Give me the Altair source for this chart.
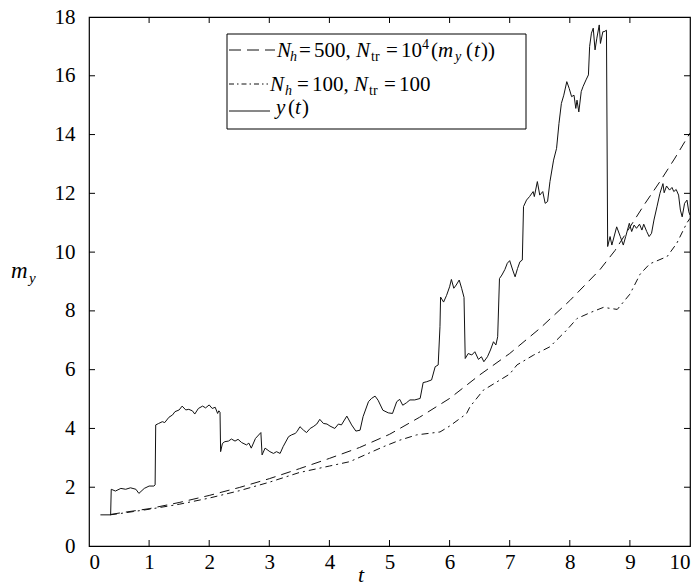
import altair as alt
import pandas as pd

# ---- data ----
yt_t = [0.19,0.36,0.37,0.44,0.53,0.61,0.69,0.78,0.83,0.92,1.0,1.08,1.10,1.11,1.16,1.22,1.26,1.33,1.39,1.43,1.5,1.55,1.61,1.66,1.72,1.76,1.82,1.89,1.94,2.0,2.05,2.1,2.14,2.16,2.18,2.19,2.22,2.26,2.32,2.37,2.43,2.48,2.54,2.62,2.66,2.7,2.77,2.86,2.88,2.93,3.01,3.07,3.12,3.18,3.23,3.32,3.37,3.43,3.46,3.51,3.57,3.62,3.68,3.73,3.79,3.84,3.9,3.96,4.01,4.09,4.15,4.2,4.29,4.37,4.44,4.51,4.56,4.65,4.7,4.76,4.81,4.89,4.98,5.05,5.12,5.17,5.22,5.28,5.34,5.42,5.51,5.56,5.62,5.7,5.76,5.81,5.84,5.85,5.9,5.95,6.0,6.03,6.07,6.11,6.16,6.2,6.24,6.26,6.31,6.37,6.42,6.48,6.53,6.57,6.63,6.68,6.73,6.77,6.8,6.83,6.87,6.92,6.96,7.0,7.05,7.09,7.13,7.17,7.21,7.23,7.28,7.33,7.39,7.41,7.46,7.5,7.55,7.59,7.63,7.67,7.73,7.78,7.82,7.86,7.9,7.95,7.99,8.03,8.07,8.1,8.12,8.15,8.19,8.22,8.27,8.31,8.33,8.36,8.39,8.42,8.45,8.49,8.51,8.55,8.57,8.61,8.63,8.67,8.7,8.78,8.84,8.89,8.93,8.99,9.03,9.07,9.11,9.16,9.2,9.23,9.28,9.32,9.36,9.4,9.45,9.5,9.55,9.57,9.61,9.66,9.7,9.73,9.77,9.81,9.84,9.87,9.91,9.95,9.98,10.0]
yt_y = [1.06,1.06,1.93,1.87,1.96,1.93,1.98,1.93,1.79,1.96,2.04,2.04,2.08,4.12,4.17,4.23,4.2,4.38,4.46,4.57,4.63,4.76,4.63,4.65,4.6,4.49,4.68,4.76,4.7,4.8,4.68,4.72,4.51,4.6,4.55,3.21,3.49,3.55,3.57,3.64,3.57,3.63,3.52,3.44,3.5,3.33,3.66,3.86,3.1,3.33,3.21,3.15,3.21,3.15,3.38,3.72,3.78,3.83,3.89,4.06,3.94,3.86,4.0,4.06,4.15,4.31,4.17,4.15,4.08,4.0,4.15,4.12,4.42,4.12,3.91,3.94,4.4,4.91,5.02,5.1,4.96,4.62,4.53,4.51,4.91,4.99,4.79,4.87,4.97,4.97,5.02,5.56,5.59,5.65,6.1,6.16,7.46,8.47,8.3,8.53,8.82,9.07,8.77,8.88,9.05,8.77,8.46,6.38,6.55,6.5,6.61,6.35,6.44,6.27,6.44,6.67,6.95,6.84,7.12,9.1,9.22,9.41,9.62,9.71,9.39,9.16,9.44,9.67,9.73,11.55,11.77,11.89,12.06,11.89,12.4,11.94,12.06,11.66,11.72,12.4,13.13,13.53,14.38,15.06,15.34,15.8,15.57,15.29,15.34,14.89,15.17,14.77,15.46,15.63,15.86,16.03,17.0,17.45,17.62,16.88,17.28,17.73,17.1,17.5,17.5,17.55,10.19,10.53,10.24,10.86,10.53,10.24,10.53,10.98,10.7,10.92,10.81,10.95,10.75,10.95,10.7,10.53,10.64,11.09,11.54,12.0,12.33,12.02,12.25,12.11,12.2,12.06,12.13,11.94,11.43,11.2,11.66,11.77,11.37,11.26]

n500_t = [0.35,0.5,1.0,1.5,2.0,2.5,3.0,3.5,4.0,4.5,5.0,5.5,6.0,6.5,7.0,7.5,8.0,8.5,8.75,9.0,9.25,9.5,9.75,10.0]
n500_y = [1.07,1.12,1.27,1.48,1.72,1.99,2.29,2.63,2.98,3.35,3.8,4.38,5.02,5.82,6.55,7.4,8.35,9.4,10.05,10.85,11.65,12.4,13.2,14.05]

n100_t = [0.35,0.5,1.0,1.5,2.0,2.5,3.0,3.5,4.0,4.34,4.9,5.17,5.45,5.84,6.0,6.28,6.34,6.56,7.0,7.12,7.4,7.67,7.95,8.12,8.35,8.56,8.79,9.0,9.17,9.33,9.62,9.78,9.95,10.0]
n100_y = [1.06,1.1,1.25,1.42,1.63,1.88,2.17,2.5,2.72,2.87,3.38,3.6,3.78,3.88,4.08,4.5,4.74,5.3,5.85,6.16,6.5,6.78,7.35,7.74,7.95,8.12,8.05,8.57,9.25,9.6,9.85,10.3,11.0,11.15]

x_ticks = [1, 2, 3, 4, 5, 6, 7, 8, 9]
y_ticks = [2, 4, 6, 8, 10, 12, 14, 16]

W, H = 601, 529
FONT = "Liberation Serif"
INK = "#111111"

xs = alt.Scale(domain=[0, 10], nice=False, zero=False)
ys = alt.Scale(domain=[0, 18], nice=False, zero=False)

xaxis = alt.Axis(values=list(range(0, 11)), format="d", title=None, ticks=False, domain=False,
                 grid=False, labelPadding=5, labelFontSize=21, labelFont=FONT, labelColor="black")
yaxis = alt.Axis(values=list(range(0, 19, 2)), format="d", title=None, ticks=False, domain=False,
                 grid=False, labelPadding=14, labelFontSize=21, labelFont=FONT, labelColor="black")

df_y = pd.DataFrame({"t": yt_t, "v": yt_y})
df_a = pd.DataFrame({"t": n500_t, "v": n500_y})
df_b = pd.DataFrame({"t": n100_t, "v": n100_y})

line_y = alt.Chart(df_y).mark_line(color=INK, strokeWidth=1).encode(
    x=alt.X("t:Q", scale=xs, axis=xaxis), y=alt.Y("v:Q", scale=ys, axis=yaxis))
line_a = alt.Chart(df_a).mark_line(color=INK, strokeWidth=1, strokeDash=[10, 6]).encode(
    x=alt.X("t:Q", scale=xs), y=alt.Y("v:Q", scale=ys))
line_b = alt.Chart(df_b).mark_line(color=INK, strokeWidth=1, strokeDash=[7, 4, 2, 4]).encode(
    x=alt.X("t:Q", scale=xs), y=alt.Y("v:Q", scale=ys))

dfx = pd.DataFrame({"t": x_ticks})
dfy = pd.DataFrame({"v": y_ticks})
TL = 6
tick_layers = [
    alt.Chart(dfx).mark_rule(color="black", strokeWidth=1).encode(x=alt.X("t:Q", scale=xs), y=alt.value(H), y2=alt.value(H - TL)),
    alt.Chart(dfx).mark_rule(color="black", strokeWidth=1).encode(x=alt.X("t:Q", scale=xs), y=alt.value(0), y2=alt.value(TL)),
    alt.Chart(dfy).mark_rule(color="black", strokeWidth=1).encode(y=alt.Y("v:Q", scale=ys), x=alt.value(0), x2=alt.value(TL)),
    alt.Chart(dfy).mark_rule(color="black", strokeWidth=1).encode(y=alt.Y("v:Q", scale=ys), x=alt.value(W), x2=alt.value(W - TL)),
]

one = alt.Data(values=[{"k": 1}])
OX, OY = 89, 17  # plot origin on the page

def txt(s, px, py, size=21, italic=False, align="left"):
    kw = dict(text=s, font=FONT, fontSize=size, align=align, baseline="alphabetic", color="black")
    if italic:
        kw["fontStyle"] = "italic"
    return alt.Chart(one).mark_text(**kw).encode(x=alt.value(px - OX), y=alt.value(py - OY))

def seg(px1, px2, py, dash):
    kw = dict(color=INK, strokeWidth=1)
    if dash:
        kw["strokeDash"] = dash
    return alt.Chart(one).mark_rule(**kw).encode(
        x=alt.value(px1 - OX), x2=alt.value(px2 - OX), y=alt.value(py - OY))

legend_box = alt.Chart(one).mark_rect(fill="white", stroke="black", strokeWidth=1).encode(
    x=alt.value(227 - OX), x2=alt.value(526 - OX), y=alt.value(34 - OY), y2=alt.value(129 - OY))

S = 14  # sub/superscript size
legend = [
    legend_box,
    seg(229, 275, 50, [12, 6]),
    seg(229, 268, 84, [5, 3, 1.5, 3]),
    seg(229, 270, 111, None),
    # line 1
    txt("N", 277, 57, italic=True), txt("h", 290, 61, S, italic=True),
    txt("=", 299, 57), txt("500,", 314, 57),
    txt("N", 356, 57, italic=True), txt("tr", 371, 61, S),
    txt("=", 386, 57), txt("10", 401, 57), txt("4", 422, 49, S),
    txt("(", 431, 57), txt("m", 438, 57, italic=True), txt("y", 455, 61, S, italic=True),
    txt("(", 466, 57), txt("t", 474, 57, italic=True), txt("))", 481, 57),
    # line 2
    txt("N", 270, 91, italic=True), txt("h", 285, 95, S, italic=True),
    txt("=", 297, 91), txt("100,", 312, 91),
    txt("N", 354, 91, italic=True), txt("tr", 369, 95, S),
    txt("=", 384, 91), txt("100", 399, 91),
    # line 3
    txt("y", 276, 114, italic=True), txt("(", 288, 114), txt("t", 295, 114, italic=True), txt(")", 302, 114),
]

titles = [
    txt("m", 11, 278, 23, italic=True), txt("y", 29, 283, 15, italic=True),
    txt("t", 361, 582, 22, italic=True, align="center"),
]

chart = alt.layer(line_a, line_b, line_y, *tick_layers, *legend, *titles).properties(
    width=W, height=H,
    padding={"left": OX, "top": OY, "right": 700 - OX - W, "bottom": 588 - OY - H},
    autosize=alt.AutoSizeParams(type="none"),
    background="white",
).configure_view(stroke="black", strokeWidth=1.2)

chart.save("out.html", embed_options={"renderer": "svg", "actions": False})
